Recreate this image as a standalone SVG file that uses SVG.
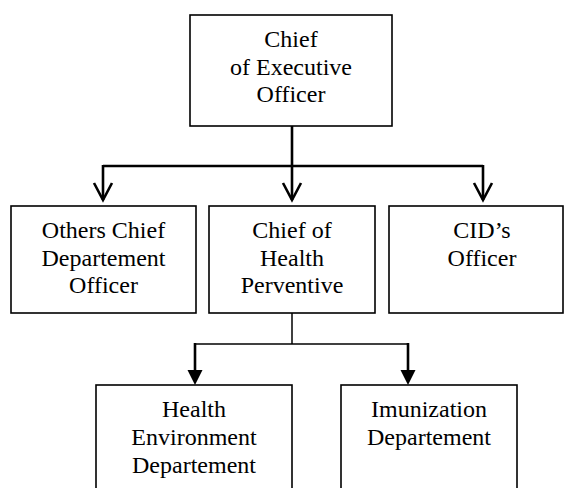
<svg xmlns="http://www.w3.org/2000/svg" width="564" height="488" viewBox="0 0 564 488">
  <style>
    .box { fill: #ffffff; stroke: #000000; stroke-width: 1.6; }
    .lbl { font-family: 'Liberation Serif', 'Times New Roman', Times, 'DejaVu Serif', serif; font-size: 24px; fill: #000000; text-anchor: middle; }
    .thick { fill: none; stroke: #000000; stroke-width: 2.6; }
    .thin { fill: none; stroke: #000000; stroke-width: 1.5; }
    .head { fill: #000000; stroke: none; }
  </style>
  <rect width="564" height="488" fill="#ffffff"/>

  <!-- connectors -->
  <g id="connectors">
    <line class="thick" x1="292" y1="126" x2="292" y2="166"/>
    <polyline class="thick" points="103,166 483,166"/>
    <line class="thick" x1="103" y1="165" x2="103" y2="200"/>
    <line class="thick" x1="292" y1="166" x2="292" y2="200"/>
    <line class="thick" x1="483" y1="165" x2="483" y2="200"/>
    <path class="thick" d="M94,183 L103,200 L112,183"/>
    <path class="thick" d="M283,183 L292,200 L301,183"/>
    <path class="thick" d="M474,183 L483,200 L492,183"/>

    <line class="thin" x1="292" y1="313" x2="292" y2="344"/>
    <line class="thin" x1="195" y1="344" x2="408" y2="344"/>
    <line class="thick" x1="195" y1="343" x2="195" y2="372"/>
    <line class="thick" x1="408" y1="343" x2="408" y2="372"/>
    <path class="head" d="M187.5,370 L202.5,370 L195,385 Z"/>
    <path class="head" d="M400.5,370 L415.5,370 L408,385 Z"/>
  </g>

  <g id="ceo">
    <rect class="box" x="190" y="15" width="202" height="111"/>
    <text class="lbl" x="291" y="47">Chief</text>
    <text class="lbl" x="291" y="75">of Executive</text>
    <text class="lbl" x="291" y="102">Officer</text>
  </g>

  <g id="others-chief">
    <rect class="box" x="11" y="206" width="185" height="107"/>
    <text class="lbl" x="103.5" y="238">Others Chief</text>
    <text class="lbl" x="103.5" y="266">Departement</text>
    <text class="lbl" x="103.5" y="293">Officer</text>
  </g>

  <g id="health-preventive">
    <rect class="box" x="209" y="206" width="166" height="107"/>
    <text class="lbl" x="292" y="238">Chief of</text>
    <text class="lbl" x="292" y="266">Health</text>
    <text class="lbl" x="292" y="293">Perventive</text>
  </g>

  <g id="cid-officer">
    <rect class="box" x="389" y="206" width="174" height="107"/>
    <text class="lbl" x="482" y="238">CID’s</text>
    <text class="lbl" x="482" y="266">Officer</text>
  </g>

  <g id="health-environment">
    <rect class="box" x="96" y="385" width="196" height="110"/>
    <text class="lbl" x="194" y="417">Health</text>
    <text class="lbl" x="194" y="445">Environment</text>
    <text class="lbl" x="194" y="473">Departement</text>
  </g>

  <g id="immunization">
    <rect class="box" x="341" y="385" width="176" height="110"/>
    <text class="lbl" x="429" y="417">Imunization</text>
    <text class="lbl" x="429" y="445">Departement</text>
  </g>
</svg>
